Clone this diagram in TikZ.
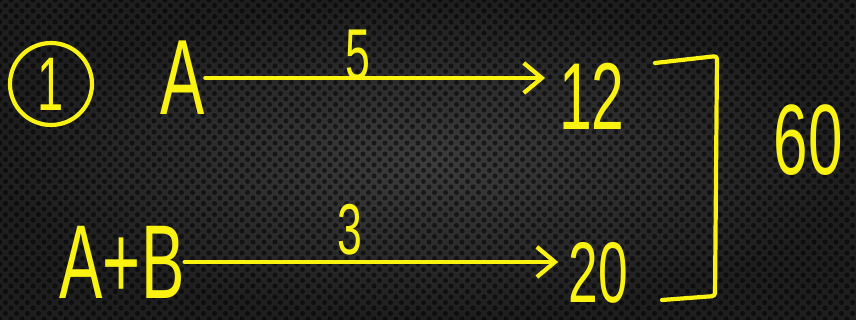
\documentclass[tikz,border=0pt]{standalone}
\usepackage{fontspec}
\usetikzlibrary{arrows.meta}
\newfontfamily\hand[FakeStretch=0.62]{Liberation Sans}
\newcommand\hw[1]{\hand\fontsize{#1}{#1}\selectfont}
\definecolor{pen}{RGB}{250,243,18}
\definecolor{bgmid}{RGB}{60,60,60}
\definecolor{bgedge}{RGB}{30,30,30}
\tikzset{
  stroke/.style={draw=pen, line width=4.2pt, line cap=round, line join=round},
  flow/.style={stroke, -{Straight Barb[length=18pt,width=30pt]}},
  hand/.style={text=pen, inner sep=0pt, anchor=center},
  ring/.style={stroke, circle, minimum size=82pt, inner sep=0pt, text=pen},
  dot/.style={fill=black, fill opacity=0.55},
}
\begin{document}
\begin{tikzpicture}[x=1pt, y=-1pt]
\useasboundingbox (0,0) rectangle (856,320);
% board
\shade[inner color=bgmid, outer color=bgedge] (0,0) rectangle (856,320);
\foreach \j in {0,...,58} {
  \foreach \i in {0,...,78} {
    \fill[dot] ({11*\i+5.5*mod(\j,2)}, {5.5*\j}) circle (2.5);
  }
}
% step number
\node[ring, font=\hw{76}] (one) at (51,84) {1};
% first line
\node[hand, font=\hw{107}] (a) at (183,78) {A};
\node[hand, font=\hw{95}] (twelve) at (592,96) {12};
\node[hand, font=\hw{72}] (five) at (358,55) {5};
\draw[flow, shorten >=14pt] (a.east) -- (a.east -| twelve.west);
% second line
\node[hand, font=\hw{105}] (ab) at (122,262) {A+B};
\node[hand, font=\hw{86}] (twenty) at (598,273) {20};
\node[hand, font=\hw{72}] (three) at (350,230) {3};
\draw[flow, shorten >=10pt] (ab.east) -- (ab.east -| twenty.west);
% bracket and total
\coordinate (bt) at (655,63);
\coordinate (bc) at (717,56);
\coordinate (bd) at (715,296);
\coordinate (bb) at (662,300);
\draw[stroke, rounded corners=3pt] (bt) -- (bc) -- (bd) -- (bb);
\node[hand, font=\hw{100}] (sixty) at (808,140) {60};
\end{tikzpicture}
\end{document}
